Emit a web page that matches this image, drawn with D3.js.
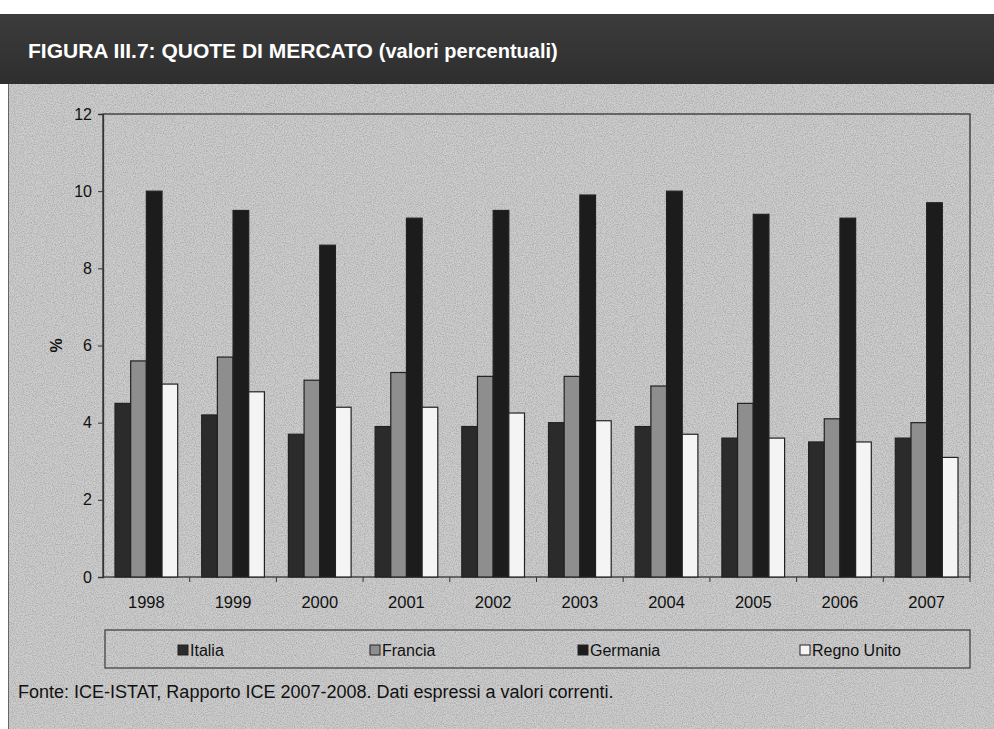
<!DOCTYPE html>
<html lang="it">
<head>
    <meta charset="UTF-8">
    <title>Quote di mercato</title>
    <script src="https://cdn.jsdelivr.net/npm/d3@7"></script>
    <style>
        body { margin: 0; background: #fff; }
        text { font-family: "Liberation Sans", Arial, sans-serif; }
    </style>
</head>
<body>
<script>
    var width = 994;
    var height = 729;

    // dati
    var anni = ["1998", "1999", "2000", "2001", "2002", "2003", "2004", "2005", "2006", "2007"];
    var paesi = ["Italia", "Francia", "Germania", "Regno Unito"];
    var italia = [4.5, 4.2, 3.7, 3.9, 3.9, 4.0, 3.9, 3.6, 3.5, 3.6];
    var francia = [5.6, 5.7, 5.1, 5.3, 5.2, 5.2, 4.95, 4.5, 4.1, 4.0];
    var germania = [10.0, 9.5, 8.6, 9.3, 9.5, 9.9, 10.0, 9.4, 9.3, 9.7];
    var regnoUnito = [5.0, 4.8, 4.4, 4.4, 4.25, 4.05, 3.7, 3.6, 3.5, 3.1];
    var yTicks = [0, 2, 4, 6, 8, 10, 12];

    var serie = [italia, francia, germania, regnoUnito];
    var colori = ["#2b2b2b", "#8e8e8e", "#1c1c1c", "#f4f4f4"];

    var svg = d3.select("body").append("svg")
            .attr("width", width)
            .attr("height", height);

    // texture di sfondo
    var defs = svg.append("defs");
    var f = defs.append("filter").attr("id", "grana")
            .attr("x", 0).attr("y", 0).attr("width", "100%").attr("height", "100%");
    f.append("feTurbulence").attr("type", "fractalNoise")
            .attr("baseFrequency", 0.9).attr("numOctaves", 2).attr("seed", 3);
    f.append("feColorMatrix").attr("type", "matrix")
            .attr("values", "0 0 0 0 0  0 0 0 0 0  0 0 0 0 0  0 0 0 -1.2 0.75");
    var grad = defs.append("linearGradient").attr("id", "barra")
            .attr("x1", 0).attr("y1", 0).attr("x2", 0).attr("y2", 1);
    grad.append("stop").attr("offset", "0%").attr("stop-color", "#3c3c3c");
    grad.append("stop").attr("offset", "100%").attr("stop-color", "#2e2e2e");

    svg.append("rect").attr("x", 8).attr("y", 84).attr("width", width - 8).attr("height", height - 84)
            .style("fill", "#cdcdcd");
    svg.append("rect").attr("x", 8).attr("y", 84).attr("width", width - 8).attr("height", height - 84)
            .attr("filter", "url(#grana)").style("opacity", 0.3);
    svg.append("line").attr("x1", 8.5).attr("x2", 8.5).attr("y1", 84).attr("y2", height)
            .style("stroke", "#666").style("stroke-width", 1);

    // barra del titolo
    svg.append("rect").attr("x", 0).attr("y", 14).attr("width", width).attr("height", 70)
            .style("fill", "url(#barra)");
    var titolo = svg.append("text").attr("x", 28).attr("y", 58)
            .style("fill", "#fff").style("font-size", "21px").style("font-weight", "bold");
    titolo.append("tspan").text("FIGURA III.7: QUOTE DI MERCATO ");
    titolo.append("tspan").style("font-size", "20px").text("(valori percentuali)");

    // area del grafico
    var pLeft = 103, pRight = 970, pTop = 114, pBottom = 577;

    var x0 = d3.scaleBand().domain(anni).range([pLeft, pRight]).padding(0);
    var pad = 12;
    var x1 = d3.scaleBand().domain(paesi).range([pad, x0.bandwidth() - pad]).padding(0);
    var y = d3.scaleLinear().domain([0, 12]).range([pBottom, pTop]);

    svg.append("rect").attr("x", pLeft).attr("y", pTop)
            .attr("width", pRight - pLeft).attr("height", pBottom - pTop)
            .style("fill", "none").style("stroke", "#333").style("stroke-width", 1.3);

    var gruppi = svg.selectAll("g.anno")
            .data(anni)
            .enter().append("g")
            .attr("class", "anno")
            .attr("transform", function (d) { return "translate(" + x0(d) + ",0)"; });

    gruppi.selectAll("rect")
            .data(function (d, i) {
                return paesi.map(function (p, j) { return {paese: p, valore: serie[j][i], j: j}; });
            })
            .enter().append("rect")
            .attr("x", function (d) { return x1(d.paese); })
            .attr("y", function (d) { return y(d.valore); })
            .attr("width", x1.bandwidth())
            .attr("height", function (d) { return pBottom - y(d.valore); })
            .style("fill", function (d) { return colori[d.j]; })
            .style("stroke", "#222")
            .style("stroke-width", 1.2);

    // asse y
    var yAxis = svg.append("g")
            .attr("transform", "translate(" + pLeft + ",0)")
            .call(d3.axisLeft(y).tickValues(yTicks).tickSize(5).tickPadding(6));
    yAxis.select(".domain").style("stroke", "#333").style("stroke-width", 1.3);
    yAxis.selectAll(".tick line").style("stroke", "#333");
    yAxis.selectAll("text").style("font-size", "16px").style("fill", "#111")
            .style("font-family", "'Liberation Sans', Arial, sans-serif");

    // asse x
    var xAxis = svg.append("g")
            .attr("transform", "translate(0," + pBottom + ")")
            .call(d3.axisBottom(x0).tickSize(0).tickPadding(19));
    xAxis.select(".domain").remove();
    xAxis.selectAll("text").style("font-size", "16.5px").style("fill", "#111")
            .style("font-family", "'Liberation Sans', Arial, sans-serif");
    svg.append("g").selectAll("line")
            .data(anni.slice(1).concat(["fine"]))
            .enter().append("line")
            .attr("x1", function (d, i) { return pLeft + x0.step() * (i + 1); })
            .attr("x2", function (d, i) { return pLeft + x0.step() * (i + 1); })
            .attr("y1", pBottom).attr("y2", pBottom + 5)
            .style("stroke", "#333");

    svg.append("text")
            .attr("transform", "translate(62," + ((pTop + pBottom) / 2) + ") rotate(-90)")
            .attr("text-anchor", "middle")
            .style("font-size", "16px").style("font-weight", "bold").style("fill", "#111")
            .text("%");

    // legenda
    svg.append("rect").attr("x", 105).attr("y", 630).attr("width", 865).attr("height", 38)
            .style("fill", "none").style("stroke", "#444").style("stroke-width", 1.3);
    var legX = [178, 370, 578, 800];
    var leg = svg.selectAll("g.leg")
            .data(paesi)
            .enter().append("g")
            .attr("class", "leg")
            .attr("transform", function (d, i) { return "translate(" + legX[i] + ",650)"; });
    leg.append("rect").attr("x", 0).attr("y", -5).attr("width", 10).attr("height", 10)
            .style("fill", function (d, i) { return colori[i]; })
            .style("stroke", "#222");
    leg.append("text").attr("x", 12).attr("y", 6)
            .style("font-size", "16px").style("fill", "#111")
            .text(function (d) { return d; });

    svg.append("text").attr("x", 18).attr("y", 698)
            .style("font-size", "18px").style("fill", "#111")
            .text("Fonte: ICE-ISTAT, Rapporto ICE 2007-2008. Dati espressi a valori correnti.");
</script>
</body>
</html>
